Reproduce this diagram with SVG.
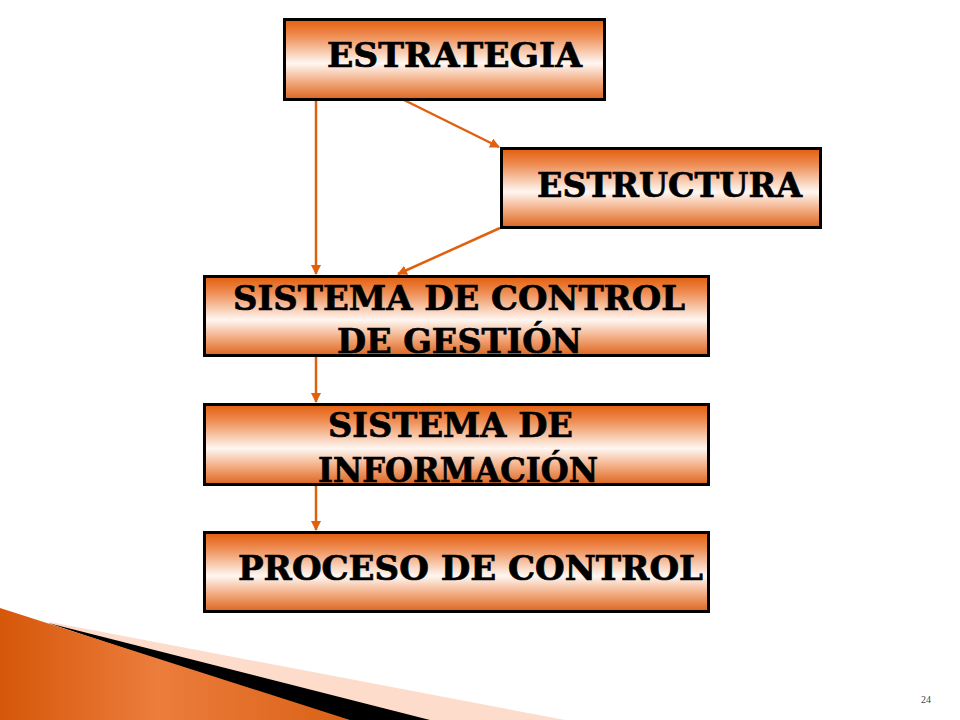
<svg xmlns="http://www.w3.org/2000/svg" width="960" height="720" viewBox="0 0 960 720">
<defs>
<linearGradient id="boxg" x1="0" y1="0" x2="0" y2="1">
<stop offset="0" stop-color="#E25E0C"/>
<stop offset="0.2" stop-color="#EE8C52"/>
<stop offset="0.55" stop-color="#FFF7F2"/>
<stop offset="0.8" stop-color="#F1A476"/>
<stop offset="1" stop-color="#DB6520"/>
</linearGradient>
<linearGradient id="wedge" x1="0" y1="0" x2="350" y2="0" gradientUnits="userSpaceOnUse">
<stop offset="0" stop-color="#D5570A"/>
<stop offset="0.45" stop-color="#EC7D3C"/>
<stop offset="1" stop-color="#DA6116"/>
</linearGradient>
<marker id="arr" viewBox="0 0 10 10" refX="9" refY="5" markerWidth="4" markerHeight="4" orient="auto" markerUnits="strokeWidth">
<path d="M0,0 L10,5 L0,10 z" fill="#E0600F"/>
</marker>
<style>
.box{fill:url(#boxg);stroke:#000;stroke-width:3}
.lbl{font-family:"DejaVu Serif","Liberation Serif",serif;font-weight:bold;font-size:33px;fill:#000;stroke:#000;stroke-width:0.7}
.con{stroke:#E0600F;stroke-width:2.5;fill:none;marker-end:url(#arr)}
</style>
</defs>
<rect width="960" height="720" fill="#fff"/>
<g id="decoration">
<polygon points="50,622 565,720 0,720" fill="#FDDCCB"/>
<polygon points="48,623 430,720 340,720" fill="#000"/>
<polygon points="0,608 350,720 0,720" fill="url(#wedge)"/>
</g>
<g id="connectors">
<line class="con" x1="316" y1="100" x2="316" y2="274"/>
<line class="con" x1="404" y1="100" x2="499" y2="147"/>
<line class="con" x1="500" y1="228" x2="398" y2="274"/>
<line class="con" x1="316" y1="357" x2="316" y2="402"/>
<line class="con" x1="316" y1="486" x2="316" y2="530"/>
</g>
<g id="n-estrategia">
<rect class="box" x="284.5" y="19.5" width="320" height="80"/>
<text class="lbl" x="327" y="67" textLength="255" lengthAdjust="spacingAndGlyphs">ESTRATEGIA</text>
</g>
<g id="n-estructura">
<rect class="box" x="501.5" y="148.5" width="319" height="79"/>
<text class="lbl" x="537" y="197" textLength="265" lengthAdjust="spacingAndGlyphs">ESTRUCTURA</text>
</g>
<g id="n-scg">
<rect class="box" x="204.5" y="276.5" width="504" height="79"/>
<text class="lbl" x="233" y="310" textLength="452" lengthAdjust="spacingAndGlyphs">SISTEMA DE CONTROL</text>
<text class="lbl" x="337" y="353" textLength="245" lengthAdjust="spacingAndGlyphs">DE GESTIÓN</text>
</g>
<g id="n-si">
<rect class="box" x="204.5" y="404.5" width="504" height="80"/>
<text class="lbl" x="328" y="437" textLength="245" lengthAdjust="spacingAndGlyphs">SISTEMA DE</text>
<text class="lbl" x="318" y="482" textLength="280" lengthAdjust="spacingAndGlyphs">INFORMACIÓN</text>
</g>
<g id="n-pc">
<rect class="box" x="204.5" y="532.5" width="504" height="79"/>
<text class="lbl" x="238" y="580" textLength="465" lengthAdjust="spacingAndGlyphs">PROCESO DE CONTROL</text>
</g>
<text x="921" y="703" font-family="Liberation Serif, serif" font-size="10" fill="#444">24</text>
</svg>
